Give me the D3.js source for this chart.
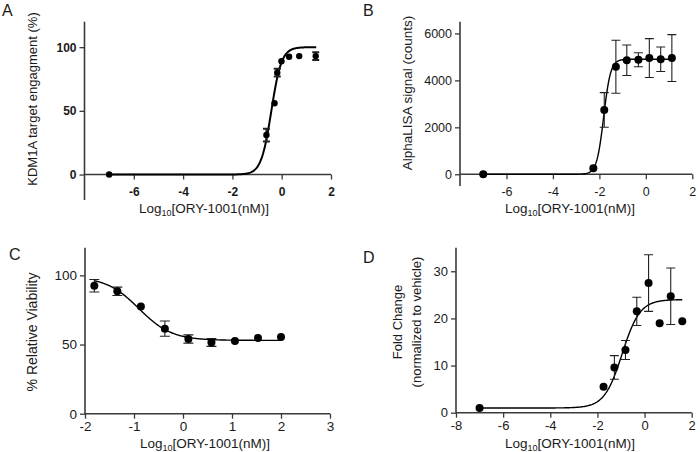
<!DOCTYPE html>
<html><head><meta charset="utf-8">
<script src="https://cdn.jsdelivr.net/npm/d3@7"></script>
<style>
body{margin:0;background:#fff;}
svg{display:block;font-family:Arial,"Liberation Sans",sans-serif;}
</style></head>
<body><svg id="c" width="700" height="452"></svg>
<script>
// ---- Panel A: KDM1A target engagement ----
const aX   = [-7, -0.62, -0.29, -0.18, -0.01, 0.30, 0.71, 1.38];
const aY   = [0, 31, 56, 80, 89, 92.5, 93, 93];
const aErr = [0, 5, 0, 3, 0, 0, 0, 3];
const aFit = [0, 100, -0.42, 2.1];          // bottom, top, logEC50, hill
const aFitRange = [-7, 1.4];
const aXTicks = [-6, -4, -2, 0, 2];
const aYTicks = [0, 50, 100];

// ---- Panel B: AlphaLISA signal ----
const bX   = [-7, -2.26, -1.79, -1.29, -0.82, -0.32, 0.15, 0.64, 1.12];
const bY   = [0, 255, 2740, 4580, 4860, 4880, 4950, 4900, 4950];
const bErr = [0, 0, 740, 1130, 650, 300, 830, 520, 1000];
const bFit = [0, 4900, -1.815, 2.9];
const bFitRange = [-7, 1.12];
const bXTicks = [-6, -4, -2, 0, 2];
const bYTicks = [0, 2000, 4000, 6000];

// ---- Panel C: relative viability ----
const cX   = [-1.81, -1.34, -0.86, -0.37, 0.11, 0.58, 1.06, 1.53, 2.0];
const cY   = [92.5, 88.5, 77.5, 61.5, 54, 51.5, 52.5, 54.8, 55.5];
const cErr = [4.5, 3, 0, 5.5, 3, 2.8, 0, 0, 0];
const cFit = [53, 99, -0.9, -1.3];
const cFitRange = [-1.81, 2.0];
const cXTicks = [-2, -1, 0, 1, 2, 3];
const cYTicks = [0, 50, 100];

// ---- Panel D: fold change ----
const dX   = [-7, -1.74, -1.28, -0.81, -0.33, 0.17, 0.64, 1.11, 1.6];
const dY   = [1, 5.5, 9.6, 13.3, 21.5, 27.5, 19, 24.7, 19.4];
const dErr = [0, 0, 2.5, 2, 3, 6, 0, 6, 0];
const dFit = [1, 24, -0.95, 1.15];
const dFitRange = [-7, 1.6];
const dXTicks = [-8, -6, -4, -2, 0, 2];
const dYTicks = [0, 10, 20, 30];

const svg = d3.select("#c");
const INK = "#1a1a1a", AX = "#3a3a3a";

function logistic(p, x) { return p[0] + (p[1] - p[0]) / (1 + Math.pow(10, (p[2] - x) * p[3])); }

function panel(o) {
  const g = svg.append("g");
  const x = d3.scaleLinear().domain(o.xd).range(o.xr);
  const y = d3.scaleLinear().domain(o.yd).range(o.yr);
  const x0 = y(0);
  const ya = d3.axisLeft(y).tickValues(o.yt).tickSize(5).tickPadding(3).tickFormat(d3.format("d"));
  const yg = g.append("g").attr("transform", `translate(${o.xr[0]},0)`).call(ya);
  const xa = d3.axisBottom(x).tickValues(o.xt).tickSize(5).tickPadding(o.xpad).tickFormat(d => d < 0 ? "-" + Math.abs(d) : d);
  const xg = g.append("g").attr("transform", `translate(0,${x0})`).call(xa);
  [yg, xg].forEach(s => {
    s.select(".domain").attr("stroke", AX).attr("stroke-width", 1.6);
    s.selectAll(".tick line").attr("stroke", AX).attr("stroke-width", 1.3);
    s.selectAll(".tick text").attr("fill", INK).attr("font-size", o.tfs).attr("font-weight", o.bold ? "bold" : "normal")
      .attr("font-family", 'Arial,"Liberation Sans",sans-serif');
  });
  yg.select(".domain").attr("d", `M0,${o.yr[0]}V${o.yr[1]}`);
  xg.select(".domain").attr("d", `M${o.xr[0]},0H${o.xr[1]}`);
  const xs = d3.range(o.fr[0], o.fr[1] + 1e-9, (o.fr[1] - o.fr[0]) / 300);
  g.append("path").datum(xs).attr("fill", "none").attr("stroke", "#000").attr("stroke-width", o.cwid)
    .attr("d", d3.line().x(d => x(d)).y(d => y(logistic(o.fit, d))));
  const cw = o.cap;
  o.X.forEach((xv, i) => {
    const e = o.E[i]; if (!e) return;
    const px = x(xv), t = y(o.Y[i] + e), b = y(o.Y[i] - e);
    g.append("path").attr("fill", "none").attr("stroke", "#222").attr("stroke-width", o.ebw)
      .attr("d", `M${px},${t}V${b}M${px - cw},${t}H${px + cw}M${px - cw},${b}H${px + cw}`);
  });
  g.selectAll("circle.pt").data(o.X).enter().append("circle")
    .attr("cx", d => x(d)).attr("cy", (d, i) => y(o.Y[i])).attr("r", o.r).attr("fill", "#000");
  const xt = g.append("text").attr("x", o.xtx).attr("y", o.xty).attr("text-anchor", "middle")
    .attr("font-size", 13.5).attr("fill", INK);
  xt.append("tspan").text("Log");
  xt.append("tspan").text("10").attr("font-size", 9).attr("dy", 3);
  xt.append("tspan").text("[ORY-1001(nM)]").attr("dy", -3);
  o.ytitle.forEach((t, k) => {
    g.append("text").attr("transform", `translate(${o.ytx[k]},${o.yty}) rotate(-90)`)
      .attr("text-anchor", "middle").attr("font-size", o.yfs).attr("fill", INK).text(t);
  });
  g.append("text").attr("x", o.lab[0]).attr("y", o.lab[1]).attr("font-size", 16).attr("fill", INK).text(o.letter);
}

panel({letter: "A", lab: [2, 16], X: aX, Y: aY, E: aErr, fit: aFit, fr: aFitRange,
  xd: [-8, 2], xr: [84.5, 331], yd: [-20, 120], yr: [200, 21.7], xt: aXTicks, yt: aYTicks,
  bold: true, tfs: 12, xpad: 8, r: 3.2, cap: 3.5, ebw: 2, cwid: 2,
  xtx: 204, xty: 213, ytitle: ["KDM1A target engagment (%)"], ytx: [37], yty: 99, yfs: 13});

panel({letter: "B", lab: [363, 16], X: bX, Y: bY, E: bErr, fit: bFit, fr: bFitRange,
  xd: [-8, 2], xr: [460, 692.3], yd: [-500, 6500], yr: [186, 21.7], xt: bXTicks, yt: bYTicks,
  bold: false, tfs: 12.5, xpad: 8, r: 4, cap: 4.5, ebw: 1.1, cwid: 1.4,
  xtx: 570, xty: 213, ytitle: ["AlphaLISA signal (counts)"], ytx: [412], yty: 93, yfs: 13.5});

panel({letter: "C", lab: [9, 260], X: cX, Y: cY, E: cErr, fit: cFit, fr: cFitRange,
  xd: [-2, 3], xr: [85, 330], yd: [0, 120], yr: [413.7, 247.7], xt: cXTicks, yt: cYTicks,
  bold: false, tfs: 13.5, xpad: 3, r: 4, cap: 5, ebw: 1.1, cwid: 1.4,
  xtx: 205, xty: 448, ytitle: ["% Relative Viability"], ytx: [37], yty: 332, yfs: 14});

panel({letter: "D", lab: [363, 263], X: dX, Y: dY, E: dErr, fit: dFit, fr: dFitRange,
  xd: [-8, 2], xr: [456, 691.7], yd: [0, 35], yr: [412.7, 247.7], xt: dXTicks, yt: dYTicks,
  bold: false, tfs: 13, xpad: 3, r: 4, cap: 4.5, ebw: 1.1, cwid: 1.4,
  xtx: 570, xty: 448, ytitle: ["Fold Change", "(normalized to vehicle)"], ytx: [402, 421], yty: 322, yfs: 13});
</script></body></html>
